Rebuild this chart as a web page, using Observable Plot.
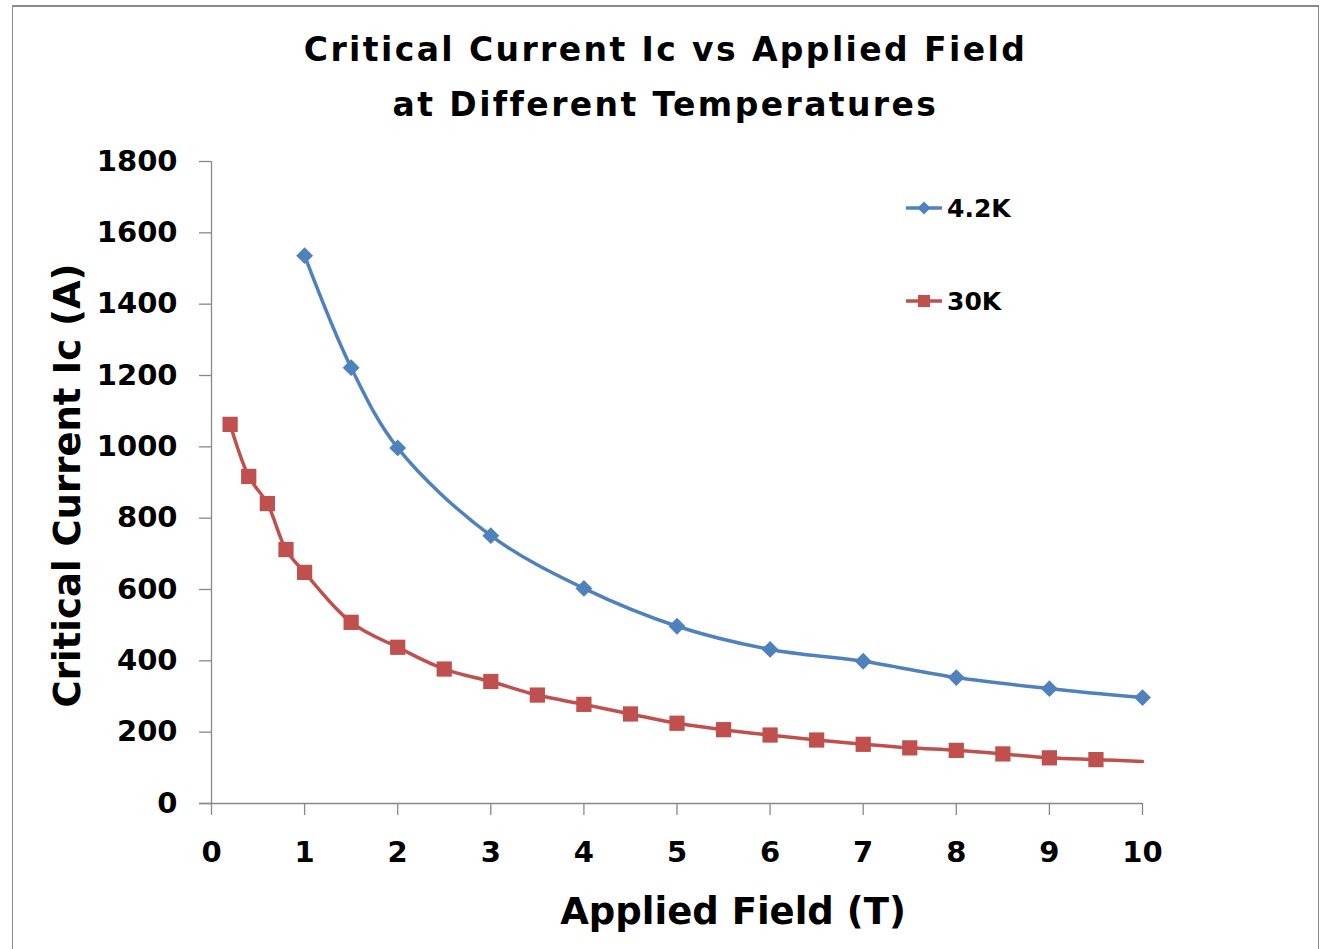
<!DOCTYPE html>
<html>
<head>
<meta charset="utf-8">
<script src="https://cdn.jsdelivr.net/npm/d3@7"></script>
<script src="https://cdn.jsdelivr.net/npm/@observablehq/plot@0.6"></script>
<style>
  html, body { margin: 0; padding: 0; background: #fff; }
  #wrap { position: relative; width: 1320px; height: 949px; overflow: hidden; font-family: "DejaVu Sans", sans-serif; font-weight: bold; }
  #frame { position: absolute; left: 12px; top: 5px; width: 1305px; height: 1000px; border-top: 2px solid #8a8a8a; border-left: 1.5px solid #8a8a8a; border-right: 1.5px solid #8a8a8a; }
  #title { position: absolute; left: 12px; width: 1307px; top: 22px; text-align: center; font-size: 33px; line-height: 55px; letter-spacing: 2.4px; color: #000; }
  #chart { position: absolute; left: 0; top: 140px; }
  .leg { position: absolute; display: flex; align-items: center; font-size: 25px; color: #000; }
  .leg svg { display: block; margin-right: 5px; }
</style>
</head>
<body>
<div id="wrap">
  <div id="frame"></div>
  <div id="title">Critical Current Ic vs Applied Field<br>at Different Temperatures</div>
  <div id="chart"></div>
  <div id="legend"></div>
</div>
<script>
// ---- data ----
const fieldBlue = [1, 1.5, 2, 3, 4, 5, 6, 7, 8, 9, 10];
const ic42K = [1536, 1222, 997, 751, 603, 497, 432, 399, 353, 322, 297];

const fieldRed = [0.2, 0.4, 0.6, 0.8, 1, 1.5, 2, 2.5, 3, 3.5, 4, 4.5, 5, 5.5, 6, 6.5, 7, 7.5, 8, 8.5, 9, 9.5, 10];
const ic30K = [1063, 917, 841, 712, 648, 508, 438, 377, 342, 304, 278, 251, 225, 207, 192, 178, 166, 156, 149, 139, 128, 123, 118];
const redMarked = [true, true, true, true, true, true, true, true, true, true, true, true, true, true, true, true, true, true, true, true, true, true, false];

const seriesNames = ["4.2K", "30K"];
const seriesColors = ["#4F81BD", "#C0504D"];
const xTicks = [0, 1, 2, 3, 4, 5, 6, 7, 8, 9, 10];
const yTicks = [0, 200, 400, 600, 800, 1000, 1200, 1400, 1600, 1800];
const xLabel = "Applied Field (T)";
const yLabel = "Critical Current Ic (A)";

// ---- build tables ----
const blue = fieldBlue.map((x, i) => ({x, y: ic42K[i], s: seriesNames[0], m: true}));
const red = fieldRed.map((x, i) => ({x, y: ic30K[i], s: seriesNames[1], m: redMarked[i]}));

const font = "DejaVu Sans, sans-serif";

const chart = Plot.plot({
  width: 1320,
  height: 809,
  marginLeft: 211,
  marginRight: 178,
  marginTop: 21,
  marginBottom: 146,
  style: {fontFamily: font, fontWeight: "bold", background: "transparent", overflow: "visible"},
  x: {domain: [0, 10]},
  y: {domain: [0, 1800]},
  marks: [
    Plot.ruleX([0], {stroke: "#888", strokeWidth: 1.3}),
    Plot.ruleY([0], {stroke: "#888", strokeWidth: 1.3, insetLeft: -12}),
    Plot.axisY({ticks: yTicks, tickSize: 12, tickPadding: 22, fontSize: 29, fontWeight: "bold",
      stroke: "#888", strokeWidth: 1.3, fill: "#000", tickFormat: d => String(d), label: null}),
    Plot.axisX({ticks: xTicks, tickSize: 12, tickPadding: 26, fontSize: 29, fontWeight: "bold",
      stroke: "#888", strokeWidth: 1.3, fill: "#000", tickFormat: d => String(d), label: null}),
    Plot.line(red, {x: "x", y: "y", stroke: seriesColors[1], strokeWidth: 3.5, curve: "catmull-rom"}),
    Plot.line(blue, {x: "x", y: "y", stroke: seriesColors[0], strokeWidth: 3.5, curve: "catmull-rom"}),
    Plot.dot(red.filter(d => d.m), {x: "x", y: "y", symbol: "square", r: 8.6, fill: seriesColors[1], stroke: "none"}),
    Plot.dot(blue, {x: "x", y: "y", symbol: "diamond2", r: 7.6, fill: seriesColors[0], stroke: "none"}),
    Plot.text([xLabel], {frameAnchor: "bottom", lineAnchor: "middle", textAnchor: "middle", dy: 109, dx: 56, fontSize: 37, fontWeight: "bold", fill: "#000"}),
    Plot.text([yLabel], {frameAnchor: "left", textAnchor: "middle", lineAnchor: "middle", rotate: -90, dx: -143, dy: 3, fontSize: 37, fontWeight: "bold", fill: "#000"})
  ]
});
document.getElementById("chart").appendChild(chart);

// ---- legend (HTML overlay) ----
const legend = document.getElementById("legend");
const legTops = [208, 301];
seriesNames.forEach((name, i) => {
  const div = document.createElement("div");
  div.className = "leg";
  div.style.left = "906px";
  div.style.top = (legTops[i] - 15) + "px";
  div.style.height = "30px";
  const c = seriesColors[i];
  const sym = i === 0
    ? `<polygon points="18,3.5 24.5,10 18,16.5 11.5,10" fill="${c}"/>`
    : `<rect x="12" y="4" width="12" height="12" fill="${c}"/>`;
  div.innerHTML = `<svg width="36" height="20" viewBox="0 0 36 20"><line x1="0" x2="36" y1="10" y2="10" stroke="${c}" stroke-width="3.5"/>${sym}</svg><span>${name}</span>`;
  legend.appendChild(div);
});
</script>
</body>
</html>
